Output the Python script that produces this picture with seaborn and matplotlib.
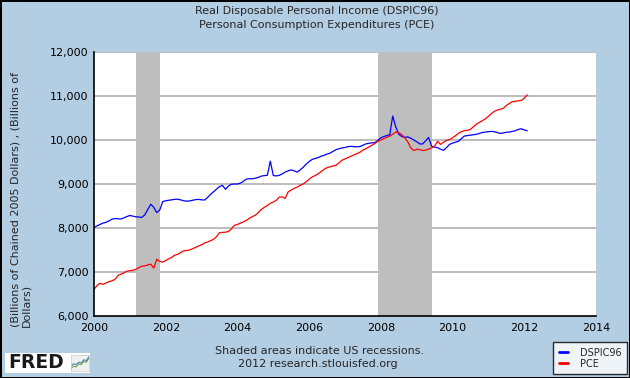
import numpy as np
import pandas as pd
import matplotlib.pyplot as plt
import matplotlib.dates as mdates
import matplotlib.ticker as mtick
import seaborn as sns

# Monthly values, Jan 2000 .. Feb 2012
dspic96 = [
    8015, 8050, 8080, 8110, 8130, 8160, 8200, 8215, 8210, 8205, 8230, 8260,    # 2000
    8285, 8270, 8255, 8250, 8240, 8300, 8420, 8540, 8470, 8350, 8410, 8600,    # 2001
    8620, 8630, 8640, 8650, 8655, 8640, 8620, 8610, 8615, 8630, 8645, 8650,    # 2002
    8640, 8636, 8690, 8760, 8820, 8880, 8940, 8970, 8880, 8950, 8995, 9000,    # 2003
    9000, 9020, 9060, 9110, 9120, 9120, 9130, 9150, 9180, 9190, 9200, 9520,    # 2004
    9190, 9185, 9195, 9230, 9270, 9300, 9320, 9300, 9270, 9320, 9380, 9450,    # 2005
    9510, 9560, 9580, 9600, 9630, 9650, 9680, 9700, 9740, 9780, 9800, 9820,    # 2006
    9830, 9850, 9855, 9850, 9845, 9850, 9880, 9910, 9925, 9935, 9940, 9990,    # 2007
    10050, 10080, 10100, 10120, 10545, 10300, 10130, 10080, 10060, 10070, 10040, 10000,  # 2008
    9960, 9910, 9910, 9980, 10060, 9860, 9840, 9825, 9790, 9765, 9830, 9900,   # 2009
    9930, 9950, 9970, 10030, 10090, 10100, 10110, 10120, 10130, 10150, 10170, 10180,  # 2010
    10190, 10195, 10190, 10170, 10150, 10160, 10175, 10180, 10195, 10210, 10240, 10255,  # 2011
    10230, 10210,                                                               # 2012
]
pce = [
    6606, 6690, 6742, 6720, 6750, 6780, 6800, 6830, 6920, 6950, 6980, 7020,    # 2000
    7030, 7040, 7060, 7100, 7130, 7140, 7160, 7180, 7090, 7290, 7240, 7225,    # 2001
    7260, 7300, 7330, 7380, 7400, 7440, 7480, 7490, 7500, 7530, 7560, 7590,    # 2002
    7620, 7660, 7680, 7710, 7740, 7800, 7890, 7900, 7905, 7920, 7980, 8060,    # 2003
    8080, 8110, 8140, 8170, 8220, 8260, 8290, 8350, 8420, 8470, 8510, 8560,    # 2004
    8590, 8630, 8700, 8710, 8670, 8820, 8860, 8900, 8930, 8970, 9000, 9050,    # 2005
    9110, 9160, 9190, 9230, 9280, 9330, 9370, 9390, 9410, 9425, 9480, 9540,    # 2006
    9570, 9600, 9630, 9660, 9690, 9720, 9770, 9800, 9840, 9880, 9920, 9970,    # 2007
    10000, 10030, 10060, 10090, 10130, 10180, 10170, 10120, 10050, 9960, 9820, 9760,  # 2008
    9790, 9780, 9760, 9770, 9790, 9820, 9860, 9970, 9900, 9950, 9990, 10010,   # 2009
    10050, 10100, 10150, 10190, 10210, 10220, 10240, 10300, 10360, 10400, 10440, 10480,  # 2010
    10540, 10600, 10650, 10680, 10700, 10720, 10780, 10830, 10870, 10880, 10890, 10900,  # 2011
    10950, 11025,                                                               # 2012
]
series_names = ["DSPIC96", "PCE"]
series_colors = ["#0000FF", "#FF0000"]

# US recessions (NBER)
recessions = [("2001-03-01", "2001-11-01"), ("2007-12-01", "2009-06-01")]

y_ticks = [6000, 7000, 8000, 9000, 10000, 11000, 12000]
x_years = [2000, 2002, 2004, 2006, 2008, 2010, 2012, 2014]

title_lines = ["Real Disposable Personal Income (DSPIC96)", "Personal Consumption Expenditures (PCE)"]
y_label = "(Billions of Chained 2005 Dollars) , (Billions of\nDollars)"
footer_lines = ["Shaded areas indicate US recessions.", "2012 research.stlouisfed.org"]

# small line chart in the FRED logo
logo_green = [0.15, 0.3, 0.25, 0.45, 0.4, 0.6, 0.55, 0.8]
logo_blue = [0.3, 0.45, 0.4, 0.55, 0.5, 0.7, 0.65, 0.9]

###############
# Data frame  #
###############

dates = pd.date_range("2000-01-01", periods=len(dspic96), freq="MS")
df = pd.DataFrame({"date": dates, "DSPIC96": dspic96, "PCE": pce})
long_df = df.melt(id_vars="date", var_name="series", value_name="value")

#########
# Plot  #
#########

sns.set_style("white")
plt.rcParams["font.family"] = ["DejaVu Sans"]

bg = "#B3CDE3"
fig = plt.figure(figsize=(6.3, 3.78), dpi=100)
fig.patch.set_facecolor(bg)
fig.patch.set_edgecolor("black")
fig.patch.set_linewidth(2)

ax = fig.add_axes([94 / 630, 62 / 378, 502 / 630, 264 / 378])
ax.set_facecolor("white")

# grid first, then recession bars on top of it, then the lines
for yt in y_ticks[1:]:
    ax.axhline(yt, color="#AAAAAA", lw=1.1, zorder=0)
for start, end in recessions:
    ax.axvspan(pd.Timestamp(start), pd.Timestamp(end), color="#BEBEBE", lw=0, zorder=1)

sns.lineplot(data=long_df, x="date", y="value", hue="series", hue_order=series_names,
             palette=series_colors, lw=0.9, ax=ax, legend=False, zorder=3)

ax.set_xlim(pd.Timestamp("2000-01-01"), pd.Timestamp("2014-01-01"))
ax.set_ylim(y_ticks[0], y_ticks[-1])
ax.set_yticks(y_ticks)
ax.yaxis.set_major_formatter(mtick.StrMethodFormatter("{x:,.0f}"))
ax.set_xticks([pd.Timestamp(f"{y}-01-01") for y in x_years])
ax.xaxis.set_major_formatter(mdates.DateFormatter("%Y"))
ax.set_xlabel(None)
ax.set_ylabel(None)

ax.tick_params(axis="both", direction="in", length=5, width=1, color="black",
               labelsize=8, labelcolor="black", pad=4)
ax.tick_params(axis="x", pad=5)
for side in ["top", "right"]:
    ax.spines[side].set_visible(False)
for side in ["left", "bottom"]:
    ax.spines[side].set_color("black")
    ax.spines[side].set_linewidth(1.2)
    ax.spines[side].set_zorder(5)

# texts
fig.text(317 / 630, 1 - 11 / 378, title_lines[0], ha="center", va="center", fontsize=8)
fig.text(317 / 630, 1 - 25 / 378, title_lines[1], ha="center", va="center", fontsize=8)
fig.text(21 / 630, 1 - 327 / 378, y_label, rotation=90, ha="center", va="bottom",
         multialignment="left", fontsize=8)
fig.text(320 / 630, 1 - 351 / 378, footer_lines[0], ha="center", va="center", fontsize=8)
fig.text(318 / 630, 1 - 364 / 378, footer_lines[1], ha="center", va="center", fontsize=8)

# legend
handles = [h for h in ax.get_lines() if h.get_color() in series_colors][:2]
leg = fig.legend(handles, series_names, loc="lower right",
                 bbox_to_anchor=(627 / 630, 1 - 374 / 378), frameon=True, fancybox=False,
                 fontsize=7, handlelength=0.95, handletextpad=1.25, borderpad=0.55,
                 labelspacing=0.1, borderaxespad=0)
leg.get_frame().set_edgecolor("black")
leg.get_frame().set_linewidth(1)
for h in leg.get_lines():
    h.set_linewidth(2)

# FRED logo
logo = fig.add_axes([5 / 630, 1 - 373 / 378, 85 / 630, 20 / 378])
logo.set_facecolor("white")
logo.set_xticks([])
logo.set_yticks([])
for s in logo.spines.values():
    s.set_visible(False)
logo.text(0.04, 0.5, "FRED", fontsize=13.5, fontweight="bold", color="#1A1A1A",
          ha="left", va="center", transform=logo.transAxes)
icon = fig.add_axes([71 / 630, 1 - 371 / 378, 18 / 630, 16 / 378])
icon.set_facecolor("#EEF2F0")
icon.plot(np.linspace(0, 1, len(logo_green)), logo_green, color="#6BA84F", lw=0.8)
icon.plot(np.linspace(0, 1, len(logo_blue)), logo_blue, color="#5A7FB5", lw=0.8)
icon.set_xlim(0, 1)
icon.set_ylim(0, 1)
icon.set_xticks([])
icon.set_yticks([])
for s in icon.spines.values():
    s.set_color("#CCCCCC")
    s.set_linewidth(0.5)

fig.savefig("out.png", dpi=100, facecolor=fig.get_facecolor(), edgecolor=fig.get_edgecolor())
